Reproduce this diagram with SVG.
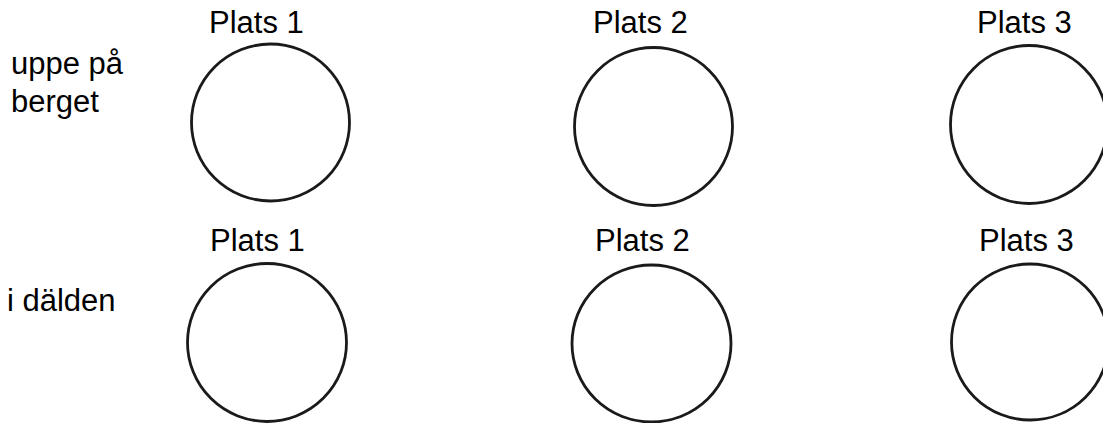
<svg xmlns="http://www.w3.org/2000/svg" width="1103" height="423" viewBox="0 0 1103 423">
<style>
text{font-family:"Liberation Sans",Arial,sans-serif;font-size:31px;fill:#000}
.c{fill:none;stroke:#1a1a1a;stroke-width:2.8}
</style>
<rect width="1103" height="423" fill="#fff"/>
<g id="row-labels">
<text x="11" y="74">uppe på</text>
<text x="11" y="112">berget</text>
<text x="7" y="311">i dälden</text>
</g>
<g id="top-1"><text x="209" y="33">Plats 1</text><ellipse class="c" cx="270.5" cy="122.5" rx="79" ry="78.5"/></g>
<g id="top-2"><text x="593" y="33">Plats 2</text><ellipse class="c" cx="653.5" cy="126.5" rx="79" ry="79"/></g>
<g id="top-3"><text x="977" y="33">Plats 3</text><ellipse class="c" cx="1029" cy="124.5" rx="78.5" ry="79"/></g>
<g id="bottom-1"><text x="210" y="251">Plats 1</text><ellipse class="c" cx="267" cy="342.5" rx="79.5" ry="79"/></g>
<g id="bottom-2"><text x="595" y="251">Plats 2</text><ellipse class="c" cx="651.5" cy="343.5" rx="79.5" ry="78.5"/></g>
<g id="bottom-3"><text x="979" y="251">Plats 3</text><ellipse class="c" cx="1030" cy="342" rx="78.5" ry="78"/></g>
<g id="connectors"/>
</svg>
